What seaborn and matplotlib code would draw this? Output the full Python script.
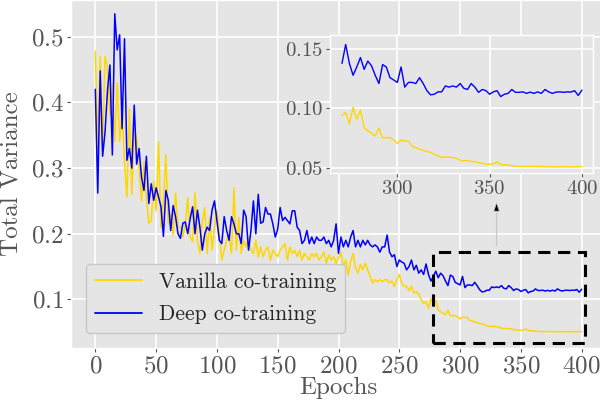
import matplotlib
matplotlib.use("Agg")
import matplotlib.pyplot as plt
import numpy as np
import pandas as pd
import seaborn as sns
from matplotlib.patches import Rectangle

epochs = list(range(0, 401, 2))

vanilla = [
    0.478, 0.33, 0.47, 0.33, 0.47, 0.455, 0.38, 0.43, 0.34, 0.43, 0.34, 0.39, 0.31, 0.256, 0.39, 0.26, 0.36, 0.345, 0.30, 0.25, 0.31, 0.255, 0.216,
    0.22, 0.28, 0.235, 0.34, 0.21, 0.25, 0.32, 0.215, 0.23, 0.198, 0.262, 0.21, 0.21, 0.195, 0.215, 0.255, 0.195, 0.188, 0.262, 0.19, 0.17, 0.22, 0.24,
    0.17, 0.225, 0.175, 0.21, 0.235, 0.20, 0.16, 0.175, 0.19, 0.20, 0.17, 0.27, 0.175, 0.225, 0.17, 0.19, 0.18, 0.195, 0.175, 0.17, 0.19, 0.165,
    0.18, 0.165, 0.175, 0.18, 0.16, 0.175, 0.17, 0.165, 0.175, 0.18, 0.185, 0.16, 0.18, 0.17, 0.175, 0.165, 0.175, 0.16, 0.17, 0.165, 0.16, 0.17, 0.165,
    0.17, 0.16, 0.165, 0.172, 0.155, 0.168, 0.16, 0.165, 0.155, 0.163, 0.172, 0.15, 0.16, 0.137, 0.158, 0.17, 0.148, 0.14, 0.153, 0.145, 0.155, 0.145,
    0.135, 0.125, 0.13, 0.127, 0.13, 0.127, 0.13, 0.13, 0.125, 0.128, 0.12, 0.13, 0.138, 0.125, 0.12, 0.12, 0.113, 0.12, 0.11, 0.112, 0.108, 0.1, 0.094,
    0.0966, 0.087, 0.101, 0.091, 0.0986, 0.084, 0.081, 0.079, 0.0766, 0.0833, 0.0749, 0.0754, 0.0754, 0.0734, 0.0703, 0.0734, 0.0723, 0.0726, 0.068, 0.067,
    0.0655, 0.0647, 0.0636, 0.063, 0.0613, 0.060, 0.0585, 0.059, 0.059, 0.0585, 0.058, 0.0562, 0.0556, 0.0559, 0.0554, 0.0551, 0.0542, 0.0537, 0.0531, 0.0528,
    0.0534, 0.0548, 0.0528, 0.0523, 0.0523, 0.0517, 0.0514, 0.0511, 0.0511, 0.0511, 0.051, 0.0511, 0.0509, 0.051, 0.0508, 0.0508, 0.0507, 0.0507, 0.0507,
    0.0508, 0.0507, 0.0507, 0.0507, 0.0508, 0.0509,
]

deep = [
    0.42, 0.262, 0.448, 0.318, 0.355, 0.418, 0.457, 0.32, 0.535, 0.48, 0.503, 0.36, 0.497, 0.312, 0.33, 0.30, 0.396, 0.306, 0.33, 0.286, 0.266, 0.318, 0.246,
    0.276, 0.251, 0.27, 0.256, 0.241, 0.196, 0.266, 0.251, 0.205, 0.243, 0.226, 0.20, 0.193, 0.216, 0.218, 0.20, 0.223, 0.241, 0.20, 0.236, 0.21, 0.175, 0.20,
    0.21, 0.205, 0.236, 0.25, 0.22, 0.19, 0.185, 0.226, 0.205, 0.19, 0.226, 0.215, 0.20, 0.20, 0.185, 0.236, 0.226, 0.175, 0.205, 0.25, 0.20, 0.26,
    0.216, 0.218, 0.24, 0.23, 0.23, 0.215, 0.195, 0.207, 0.24, 0.22, 0.225, 0.22, 0.215, 0.235, 0.235, 0.21, 0.205, 0.185, 0.19, 0.205, 0.185, 0.195, 0.185,
    0.195, 0.19, 0.19, 0.195, 0.185, 0.19, 0.18, 0.19, 0.215, 0.17, 0.195, 0.18, 0.19, 0.18, 0.195, 0.205, 0.18, 0.19, 0.18, 0.19, 0.183, 0.19,
    0.183, 0.18, 0.183, 0.18, 0.172, 0.18, 0.18, 0.198, 0.172, 0.165, 0.168, 0.15, 0.16, 0.157, 0.155, 0.145, 0.15, 0.16, 0.145, 0.152, 0.14, 0.145, 0.138,
    0.154, 0.138, 0.128, 0.135, 0.143, 0.133, 0.14, 0.136, 0.128, 0.121, 0.137, 0.135, 0.126, 0.124, 0.122, 0.135, 0.118, 0.122, 0.122, 0.121,
    0.126, 0.121, 0.115, 0.1115, 0.112, 0.114, 0.114, 0.119, 0.118, 0.119, 0.118, 0.121, 0.117, 0.116, 0.121, 0.118, 0.1136, 0.116, 0.115, 0.112,
    0.114, 0.115, 0.11, 0.112, 0.1127, 0.116, 0.1136, 0.1136, 0.114, 0.1127, 0.1138, 0.1127, 0.114, 0.1127, 0.116, 0.114, 0.1127, 0.1138, 0.114,
    0.1136, 0.114, 0.1138, 0.115, 0.111, 0.1155,
]

labels = ["Vanilla co-training", "Deep co-training"]
colors = ["#FFD700", "#0000FF"]
zoom_start = 270

df = pd.DataFrame({"Epochs": epochs, labels[0]: vanilla, labels[1]: deep})

sns.set_theme(style="darkgrid")
plt.rcParams.update({
    "axes.facecolor": "#E5E5E5",
    "figure.facecolor": "white",
    "grid.color": "white",
    "grid.linewidth": 1.2,
    "axes.edgecolor": "white",
    "axes.linewidth": 1.0,
    "xtick.color": "#555555",
    "ytick.color": "#555555",
    "xtick.labelcolor": "#555555",
    "ytick.labelcolor": "#555555",
    "axes.labelcolor": "#555555",
    "xtick.bottom": True,
    "ytick.left": True,
    "xtick.major.size": 3,
    "ytick.major.size": 3,
    "xtick.major.width": 0.8,
    "ytick.major.width": 0.8,
    "xtick.direction": "out",
    "ytick.direction": "out",
    "mathtext.fontset": "cm",
    "axes.formatter.use_mathtext": True,
    "axes.unicode_minus": False,
})
plt.rcParams["font.family"] = ["cmr10", "DejaVu Serif"]

fig = plt.figure(figsize=(6.0, 4.03), dpi=100)
ax = fig.add_axes([71 / 600, 55 / 403, 535 / 600, 348 / 403])

for lab, col in zip(labels, colors):
    sns.lineplot(data=df, x="Epochs", y=lab, color=col, linewidth=1.1, ax=ax, label=lab)

ax.set_xlim(-20, 420)
ax.set_ylim(0.026, 0.556)
ax.set_xticks([0, 50, 100, 150, 200, 250, 300, 350, 400])
ax.set_yticks([0.1, 0.2, 0.3, 0.4, 0.5])
ax.tick_params(labelsize=18, pad=2)
ax.set_xlabel("Epochs", fontsize=18, labelpad=0)
ax.set_ylabel("Total Variance", fontsize=18, labelpad=6)

leg = ax.legend(loc="lower left", fontsize=15.5, frameon=True, fancybox=True,
                facecolor="#E5E5E5", edgecolor="#C8C8C8", framealpha=1.0,
                borderaxespad=0.7, handlelength=2.2, labelspacing=0.6)
for t in leg.get_texts():
    t.set_color("#262626")
for h in leg.get_lines():
    h.set_linewidth(1.3)

rect = Rectangle((278, 0.033), 125, 0.139, fill=False, edgecolor="black",
                 linewidth=2.2, linestyle=(0, (4, 2.5)), zorder=5)
ax.add_patch(rect)
ax.annotate("", xy=(330, 0.247), xytext=(330, 0.182),
            arrowprops=dict(facecolor="black", edgecolor="#C8C8C8", width=0.4,
                            headwidth=4, headlength=6, shrink=0, linewidth=0.5))

axin = fig.add_axes([330 / 600, 230 / 403, 263 / 600, 138 / 403])
zdf = df[df["Epochs"] >= zoom_start]
for lab, col in zip(labels, colors):
    sns.lineplot(data=zdf, x="Epochs", y=lab, color=col, linewidth=1.0, ax=axin, legend=False)
axin.set_xlim(263.5, 406)
axin.set_ylim(0.0455, 0.162)
axin.set_xticks([300, 350, 400])
axin.set_yticks([0.05, 0.10, 0.15])
axin.tick_params(labelsize=15, pad=2)
axin.set_xlabel("")
axin.set_ylabel("")

fig.savefig("out.png", dpi=100)
